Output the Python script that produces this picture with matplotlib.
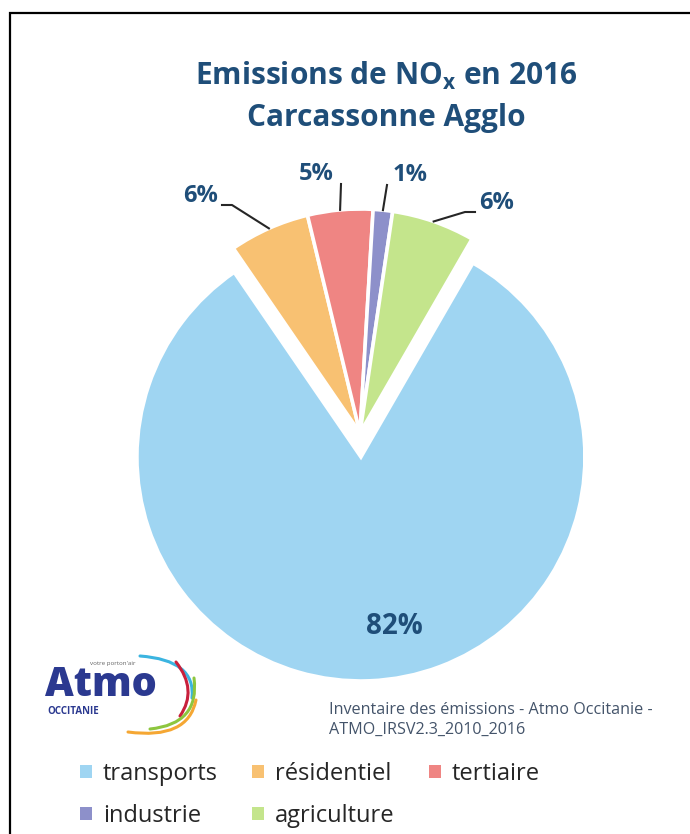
import numpy as np
import matplotlib
matplotlib.use('Agg')
import matplotlib.pyplot as plt
from matplotlib.path import Path
from matplotlib.patches import PathPatch

# data
sectors = ['transports', 'résidentiel', 'tertiaire', 'industrie', 'agriculture']
shares = [82.1, 5.8, 4.7, 1.4, 6.0]
colors = ['#9FD5F2', '#F8C172', '#EF8583', '#8D90CA', '#C4E58C']

title_l1 = r'Emissions de NO$_\mathregular{x}$ en 2016'
title_l2 = 'Carcassonne Agglo'
source_lines = ['Inventaire des émissions - Atmo Occitanie -', 'ATMO_IRSV2.3_2010_2016']

W, H = 690, 834
navy = '#1F4E79'
plt.rcParams['font.family'] = ['Open Sans', 'DejaVu Sans']
plt.rcParams['mathtext.fontset'] = 'custom'
plt.rcParams['mathtext.rm'] = 'Open Sans:bold'

fig = plt.figure(figsize=(W / 100, H / 100), dpi=100)
ax = fig.add_axes([0, 0, 1, 1])

def px(x, y):
    # image pixel coords -> data coords (y up)
    return x, H - y

cx, cy = px(360, 433)
R = 224
explode = [24, 0, 0, 0, 0]   # pie() takes the offset in data units
wedges, _ = ax.pie(shares, colors=colors, startangle=60, counterclock=False,
                   center=(cx, cy), radius=R, explode=explode,
                   wedgeprops=dict(edgecolor='white', linewidth=2.6))
ax.set_xlim(0, W)
ax.set_ylim(0, H)
ax.set_axis_off()

# frame (left and top only visible)
ax.plot([10, 10, W + 5], [-5, H - 13, H - 13], color='black', lw=1.6,
        solid_joinstyle='miter', clip_on=False)

# title
ax.text(*px(386, 76), title_l1, ha='center', va='center', fontsize=21.5,
        fontweight='bold', color=navy)
ax.text(*px(386, 118), title_l2, ha='center', va='center', fontsize=21.5,
        fontweight='bold', color=navy)

# percentage labels with leader lines
lab_pos = {1: (218, 196, 'right', [(232, 205), (222, 205)]),
           2: (316, 174, 'center', [(341, 184)]),
           3: (410, 175, 'center', [(387, 185)]),
           4: (479, 203, 'left', [(465, 212), (475, 212)])}
for i, (tx, ty, ha, pts) in lab_pos.items():
    w = wedges[i]
    mid = np.deg2rad((w.theta1 + w.theta2) / 2)
    ax0 = w.center[0] + w.r * np.cos(mid)
    ay0 = w.center[1] + w.r * np.sin(mid)
    xs = [ax0] + [p[0] for p in pts]
    ys = [ay0] + [H - p[1] for p in pts]
    ax.plot(xs, ys, color='#262626', lw=1.5)
    ax.text(*px(tx, ty), f'{shares[i]:.0f}%', ha=ha, va='center',
            fontsize=17, fontweight='bold', color=navy)
ax.text(*px(394, 627), f'{shares[0]:.0f}%', ha='center', va='center',
        fontsize=20, fontweight='bold', color=navy)

# source
ax.text(*px(329, 710), source_lines[0], ha='left', va='center', fontsize=11.6,
        color='#44546A')
ax.text(*px(329, 730), source_lines[1], ha='left', va='center', fontsize=11.6,
        color='#44546A')

# logo (approximation)
logo_blue = '#2B3990'
ax.text(*px(45, 686), 'Atmo', ha='left', va='center', fontsize=28.5,
        fontweight='heavy', color=logo_blue)
ax.text(*px(47, 711), 'OCCITANIE', ha='left', va='center', fontsize=7,
        fontweight='bold', color=logo_blue)
ax.text(*px(90, 664), "votre porton'air", ha='left', va='center', fontsize=4.5,
        color='#666666')
arcs = [((140, 656), (196, 660), (192, 698), '#3BB4E0'),
        ((176, 662), (198, 690), (180, 716), '#C8203C'),
        ((194, 678), (200, 724), (150, 729), '#8DC63F'),
        ((196, 700), (188, 740), (128, 732), '#F5A733')]
for p0, p1, p2, c in arcs:
    path = Path([px(*p0), px(*p1), px(*p2)], [Path.MOVETO, Path.CURVE3, Path.CURVE3])
    ax.add_patch(PathPatch(path, fc='none', ec=c, lw=2.2, capstyle='round'))

# legend
order = [0, 3, 1, 4, 2]
leg = ax.legend([wedges[i] for i in order], [sectors[i] for i in order],
                ncol=3, loc='upper left', bbox_to_anchor=(80 / W, 1 - 762 / H),
                frameon=False, fontsize=17, handlelength=0.5, handleheight=0.5,
                handletextpad=0.47, columnspacing=1.45, labelspacing=0.75,
                borderaxespad=0, borderpad=0)
for t in leg.get_texts():
    t.set_color('#262626')
for h in leg.legend_handles:
    h.set_edgecolor('none')

fig.savefig('out.png', dpi=100)
